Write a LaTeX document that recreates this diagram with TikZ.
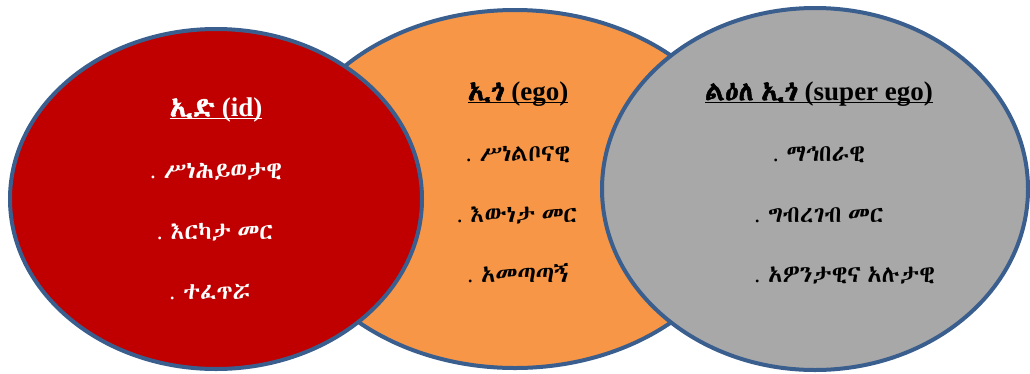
\documentclass[tikz,border=0pt]{standalone}
\usepackage{fontspec}
\setmainfont{Liberation Serif}
\IfFontExistsTF{Abyssinica SIL}
  {\newfontfamily\ethfont{Abyssinica SIL}[AutoFakeBold=2, WordSpace=0.6]}
  {\IfFontExistsTF{FreeSerif}
    {\newfontfamily\ethfont{FreeSerif}[AutoFakeBold=2, WordSpace=0.6]}
    {\newfontfamily\ethfont{DejaVu Sans}}}
\usepackage{tikz}
\usetikzlibrary{positioning}

% Office-like colours
\definecolor{idred}{HTML}{C00000}
\definecolor{egoorange}{HTML}{F79646}
\definecolor{supgray}{HTML}{A8A8A8}
\definecolor{rimblue}{HTML}{3A5F8E}

% underlined heading with a fixed rule depth
\newcommand{\headrule}[1]{\setbox0\hbox{#1}\rlap{\rule[-3pt]{\wd0}{1.6pt}}\box0}
% list entry: Latin dot, Ethiopic words
\newcommand{\dotitem}[1]{. {\ethfont #1}}

\tikzset{
  part/.style={draw=rimblue, line width=4pt},
  headtext/.style={font=\fontsize{27}{31}\selectfont\bfseries, inner sep=0pt},
  itemtext/.style={font=\fontsize{23.5}{27}\selectfont, inner sep=0pt}
}

\begin{document}
\begin{tikzpicture}[x=1pt, y=-1pt]
                \useasboundingbox (0,0) rectangle (1030,373);

                % Ego ellipse in the middle, behind the others
                \filldraw[part, fill=egoorange] (515,189) ellipse (234 and 179);

                % Id ellipse on the left
                \filldraw[part, fill=idred] (216,199) ellipse (206 and 170);

                % Super ego ellipse on the right
                \filldraw[part, fill=supgray] (815,189) ellipse (213 and 181);

                % Id texts
                \node[headtext, text=white] (idhead) at (216,110)
                  {\headrule{{\ethfont\bfseries ኢድ} (id)}};
                \node[itemtext, text=white] (idone) at (216,172) {\dotitem{ሥነሕይወታዊ}};
                \node[itemtext, text=white] (idtwo) at (215,232) {\dotitem{እርካታ መር}};
                \node[itemtext, text=white] (idthree) at (210,292) {\dotitem{ተፈጥሯ}};

                % Ego texts
                \node[headtext] (egohead) at (518,94)
                  {\headrule{{\ethfont\bfseries ኢጎ} (ego)}};
                \node[itemtext] (egoone) at (518,155) {\dotitem{ሥነልቦናዊ}};
                \node[itemtext] (egotwo) at (517,215) {\dotitem{እውነታ መር}};
                \node[itemtext] (egothree) at (518,273) {\dotitem{አመጣጣኝ}};

                % Super ego texts
                \node[headtext] (suphead) at (819,94)
                  {\headrule{{\ethfont\bfseries ልዕለ ኢጎ} (super ego)}};
                \node[itemtext] (supone) at (819,155) {\dotitem{ማኅበራዊ}};
                \node[itemtext] (suptwo) at (819,215) {\dotitem{ግብረገብ መር}};
                \node[itemtext, anchor=west] (supthree) at (suptwo.west |- 0,275) {\dotitem{አዎንታዊና አሉታዊ}};
\end{tikzpicture}
\end{document}
